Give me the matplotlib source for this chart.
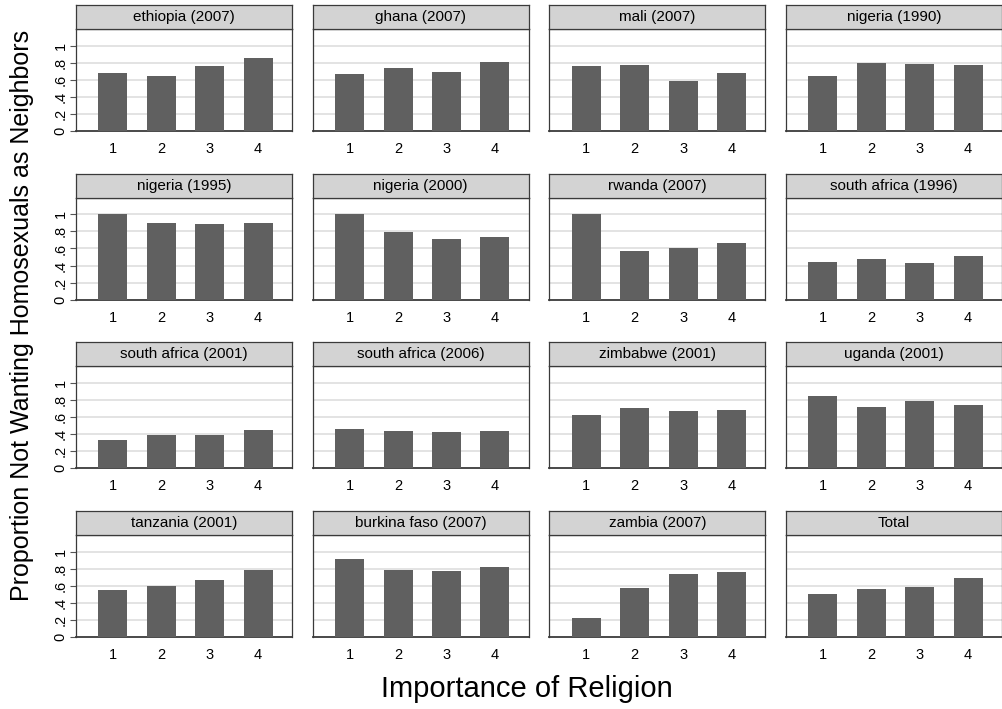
import numpy as np
import matplotlib
matplotlib.use("Agg")
import matplotlib.pyplot as plt

plt.rcParams['font.family'] = ['Liberation Sans', 'DejaVu Sans']

# panel titles, in reading order (4 x 4)
panels = ["ethiopia (2007)", "ghana (2007)", "mali (2007)", "nigeria (1990)",
          "nigeria (1995)", "nigeria (2000)", "rwanda (2007)", "south africa (1996)",
          "south africa (2001)", "south africa (2006)", "zimbabwe (2001)", "uganda (2001)",
          "tanzania (2001)", "burkina faso (2007)", "zambia (2007)", "Total"]

religion = [1, 2, 3, 4]

ethiopia_2007 = [0.676, 0.640, 0.758, 0.859]
ghana_2007 = [0.672, 0.738, 0.691, 0.809]
mali_2007 = [0.758, 0.777, 0.582, 0.680]
nigeria_1990 = [0.645, 0.797, 0.789, 0.773]
nigeria_1995 = [1.000, 0.895, 0.884, 0.895]
nigeria_2000 = [1.000, 0.795, 0.713, 0.736]
rwanda_2007 = [1.000, 0.570, 0.609, 0.663]
south_africa_1996 = [0.442, 0.477, 0.434, 0.516]
south_africa_2001 = [0.335, 0.385, 0.393, 0.451]
south_africa_2006 = [0.455, 0.440, 0.428, 0.432]
zimbabwe_2001 = [0.626, 0.708, 0.669, 0.685]
uganda_2001 = [0.848, 0.724, 0.790, 0.743]
tanzania_2001 = [0.549, 0.600, 0.663, 0.788]
burkina_faso_2007 = [0.918, 0.788, 0.773, 0.816]
zambia_2007 = [0.227, 0.573, 0.733, 0.761]
total = [0.502, 0.557, 0.584, 0.686]

values = [ethiopia_2007, ghana_2007, mali_2007, nigeria_1990,
          nigeria_1995, nigeria_2000, rwanda_2007, south_africa_1996,
          south_africa_2001, south_africa_2006, zimbabwe_2001, uganda_2001,
          tanzania_2001, burkina_faso_2007, zambia_2007, total]

yticks = [0, 0.2, 0.4, 0.6, 0.8, 1.0]
yticklabels = ["0", ".2", ".4", ".6", ".8", "1"]

W, H = 1002, 709
fig = plt.figure(figsize=(W / 100, H / 100), dpi=100)

bar_color = "#606060"
head_color = "#d3d3d3"
edge_color = "#3a3a3a"
grid_color = "#e3e3e3"

col_left = [76, 312.7, 549.3, 786]
col_w = 216
row_bottom = [131, 299.7, 468.3, 637]
plot_h = 102
head_h = 24

for k, (name, vals) in enumerate(zip(panels, values)):
    r, c = divmod(k, 4)
    x0 = col_left[c]
    yb = row_bottom[r]
    ax = fig.add_axes([x0 / W, 1 - yb / H, col_w / W, plot_h / H])
    ax.bar(religion, vals, width=0.6, color=bar_color, zorder=3)
    ax.set_xlim(0.236, 0.236 + col_w / 48.4)
    ax.set_ylim(0, 1.195)
    ax.set_yticks(yticks)
    for t in yticks[1:]:
        ax.axhline(t, color=grid_color, lw=1.4, zorder=1)
    ax.set_xticks(religion)
    ax.set_xticklabels([str(v) for v in religion], fontsize=10.5)
    ax.tick_params(axis='x', length=0, pad=8)
    if c == 0:
        ax.set_yticklabels(yticklabels, rotation=90, va='center', fontsize=10.5)
        ax.tick_params(axis='y', length=4, width=0.8, color="#555555", pad=2)
    else:
        ax.set_yticklabels([])
        ax.tick_params(axis='y', length=0)
    for s in ax.spines.values():
        s.set_color(edge_color)
        s.set_linewidth(0.9)
    ax.spines['bottom'].set_linewidth(1.3)

    hx = fig.add_axes([x0 / W, 1 - (yb - plot_h) / H, col_w / W, head_h / H])
    hx.set_facecolor(head_color)
    hx.set_xticks([])
    hx.set_yticks([])
    for s in hx.spines.values():
        s.set_color(edge_color)
        s.set_linewidth(0.9)
    hx.text(0.5, 0.5, name, ha='center', va='center', fontsize=11,
            transform=hx.transAxes)

fig.text(527 / W, 1 - 689 / H, "Importance of Religion", ha='center', va='center',
         fontsize=21)
fig.text(22 / W, 1 - 315 / H, "Proportion Not Wanting Homosexuals as Neighbors",
         ha='center', va='center', rotation=90, fontsize=18)

fig.savefig("out.png", dpi=100)
